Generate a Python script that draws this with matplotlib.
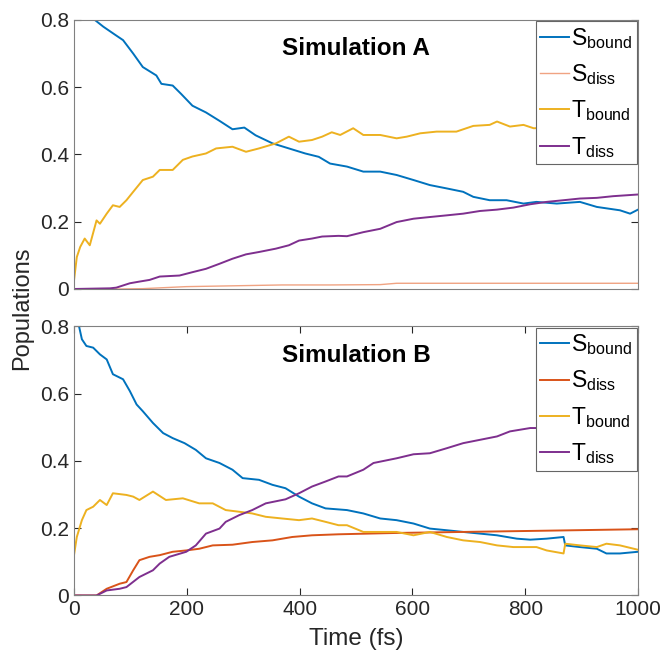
import numpy as np
import matplotlib.pyplot as plt

plt.rcParams['font.family'] = ['Liberation Sans', 'DejaVu Sans']
plt.rcParams['mathtext.fontset'] = 'custom'
plt.rcParams['mathtext.rm'] = 'Liberation Sans'
plt.rcParams['mathtext.it'] = 'Liberation Sans'

# ---- Simulation A ----
a_sb_t = [37, 52, 72, 87, 105, 122, 146, 155, 175, 190, 210, 234, 258, 281, 302, 322, 352, 381,
          410, 434, 454, 484, 513, 543, 572, 602, 631, 661, 690, 708, 737, 767, 797, 820, 856,
          897, 927, 968, 986, 1000]
a_sb_v = [0.80, 0.78, 0.757, 0.74, 0.70, 0.66, 0.635, 0.61, 0.605, 0.58, 0.545, 0.525, 0.50,
          0.475, 0.48, 0.457, 0.433, 0.418, 0.403, 0.393, 0.373, 0.364, 0.349, 0.349, 0.339,
          0.324, 0.309, 0.299, 0.289, 0.274, 0.264, 0.264, 0.254, 0.259, 0.254, 0.259, 0.244,
          0.234, 0.224, 0.236]

a_sd_t = [0, 80, 122, 199, 369, 454, 543, 572, 800, 1000]
a_sd_v = [0.0, 0.0, 0.001, 0.007, 0.012, 0.012, 0.013, 0.017, 0.017, 0.017]

a_tb_t = [0, 5, 11, 19, 28, 40, 46, 58, 69, 81, 93, 105, 122, 140, 152, 175, 193, 210, 234,
          252, 281, 305, 328, 358, 381, 399, 422, 440, 457, 472, 495, 513, 543, 572, 590, 614,
          643, 678, 708, 737, 750, 773, 797, 815, 860, 920, 1000]
a_tb_v = [0.025, 0.095, 0.125, 0.15, 0.13, 0.204, 0.194, 0.224, 0.249, 0.244, 0.264, 0.289,
          0.324, 0.334, 0.354, 0.354, 0.384, 0.394, 0.403, 0.418, 0.423, 0.408, 0.418, 0.433,
          0.453, 0.438, 0.443, 0.453, 0.466, 0.458, 0.478, 0.458, 0.458, 0.448, 0.453, 0.463,
          0.468, 0.468, 0.485, 0.488, 0.498, 0.483, 0.488, 0.478, 0.48, 0.475, 0.468]

a_td_t = [0, 64, 75, 99, 116, 134, 152, 187, 210, 234, 258, 281, 305, 328, 358, 381, 399,
          422, 440, 469, 484, 513, 543, 572, 602, 631, 661, 690, 720, 750, 779, 809, 838, 868,
          897, 927, 956, 1000]
a_td_v = [0.0, 0.002, 0.004, 0.017, 0.022, 0.027, 0.037, 0.04, 0.05, 0.06, 0.075, 0.09, 0.103,
          0.11, 0.12, 0.13, 0.144, 0.15, 0.156, 0.158, 0.157, 0.169, 0.179, 0.199, 0.209, 0.214,
          0.219, 0.224, 0.232, 0.236, 0.242, 0.252, 0.259, 0.264, 0.269, 0.271, 0.276, 0.281]

# ---- Simulation B ----
b_sb_t = [0, 9, 14, 22, 34, 46, 58, 69, 87, 99, 111, 122, 140, 158, 175, 196, 216, 234, 258,
          281, 299, 328, 352, 375, 399, 422, 446, 469, 484, 513, 543, 572, 602, 631, 661, 690,
          720, 750, 785, 809, 838, 868, 871, 897, 927, 944, 968, 1000]
b_sb_v = [0.83, 0.80, 0.762, 0.742, 0.737, 0.717, 0.702, 0.658, 0.643, 0.608, 0.568, 0.548,
          0.513, 0.483, 0.468, 0.453, 0.433, 0.408, 0.394, 0.374, 0.349, 0.344, 0.329, 0.319,
          0.294, 0.274, 0.259, 0.256, 0.254, 0.244, 0.229, 0.224, 0.214, 0.199, 0.194, 0.189,
          0.184, 0.179, 0.169, 0.166, 0.169, 0.174, 0.149, 0.144, 0.139, 0.125, 0.125, 0.13]

b_sd_t = [0, 40, 58, 81, 93, 105, 116, 134, 152, 175, 199, 222, 246, 281, 316, 352, 387, 422,
          469, 572, 690, 809, 1000]
b_sd_v = [0.0, 0.0, 0.02, 0.035, 0.04, 0.075, 0.105, 0.115, 0.12, 0.13, 0.134, 0.139, 0.149,
          0.151, 0.159, 0.164, 0.174, 0.179, 0.182, 0.186, 0.189, 0.192, 0.197]

b_tb_t = [0, 5, 14, 22, 34, 46, 58, 69, 93, 105, 116, 140, 163, 193, 222, 246, 269, 293, 316,
          340, 369, 399, 422, 446, 469, 484, 513, 543, 572, 602, 631, 661, 690, 720, 750, 779,
          820, 838, 868, 871, 897, 927, 944, 968, 1000]
b_tb_v = [0.12, 0.174, 0.224, 0.254, 0.264, 0.284, 0.269, 0.304, 0.299, 0.294, 0.284, 0.309,
          0.284, 0.289, 0.274, 0.274, 0.254, 0.249, 0.244, 0.234, 0.229, 0.224, 0.229, 0.219,
          0.209, 0.209, 0.189, 0.189, 0.189, 0.179, 0.189, 0.174, 0.164, 0.159, 0.149, 0.144,
          0.144, 0.134, 0.125, 0.154, 0.149, 0.144, 0.154, 0.149, 0.136]

b_td_t = [0, 40, 58, 81, 93, 116, 140, 152, 169, 199, 216, 234, 258, 269, 293, 316, 340, 375,
          399, 422, 446, 469, 484, 513, 531, 572, 602, 631, 661, 690, 720, 750, 773, 809, 825,
          900, 1000]
b_td_v = [0.0, 0.0, 0.015, 0.02, 0.025, 0.055, 0.075, 0.095, 0.115, 0.13, 0.149, 0.184, 0.199,
          0.219, 0.239, 0.254, 0.274, 0.286, 0.304, 0.324, 0.339, 0.354, 0.354, 0.374, 0.394,
          0.408, 0.420, 0.423, 0.438, 0.453, 0.463, 0.473, 0.488, 0.498, 0.498, 0.505, 0.515]

labels = [r'S$_{\mathrm{bound}}$', r'S$_{\mathrm{diss}}$',
          r'T$_{\mathrm{bound}}$', r'T$_{\mathrm{diss}}$']
c_blue = '#0072BD'
c_orange = '#D95319'
c_salmon = '#F0A382'
c_yellow = '#EDB120'
c_purple = '#7E2F8E'

fig = plt.figure(figsize=(6.63, 6.61), dpi=100)
ax1 = fig.add_axes([0.1116, 0.5628, 0.8507, 0.407])
ax2 = fig.add_axes([0.1116, 0.0991, 0.8507, 0.407])

lw = 1.4
ax1.plot(a_sb_t, a_sb_v, color=c_blue, lw=lw, label=labels[0])
ax1.plot(a_sd_t, a_sd_v, color=c_salmon, lw=1.0, label=labels[1])
ax1.plot(a_tb_t, a_tb_v, color=c_yellow, lw=lw, label=labels[2])
ax1.plot(a_td_t, a_td_v, color=c_purple, lw=lw, label=labels[3])

ax2.plot(b_sb_t, b_sb_v, color=c_blue, lw=lw, label=labels[0])
ax2.plot(b_sd_t, b_sd_v, color=c_orange, lw=lw, label=labels[1])
ax2.plot(b_tb_t, b_tb_v, color=c_yellow, lw=lw, label=labels[2])
ax2.plot(b_td_t, b_td_v, color=c_purple, lw=lw, label=labels[3])

for ax, title in [(ax1, 'Simulation A'), (ax2, 'Simulation B')]:
    ax.set_xlim(0, 1000)
    ax.set_ylim(0, 0.8)
    ax.set_yticks([0, 0.2, 0.4, 0.6, 0.8])
    ax.set_yticklabels(['0', '0.2', '0.4', '0.6', '0.8'])
    ax.tick_params(direction='in', top=True, right=True, labelsize=15,
                   colors='#262626', length=5, width=0.8)
    for sp in ax.spines.values():
        sp.set_color('#808080')
        sp.set_linewidth(0.8)
    ax.text(0.5, 0.893, title, transform=ax.transAxes, ha='center', va='center',
            fontsize=17.5, fontweight='bold')
    leg = ax.legend(loc='upper right', fontsize=16.5, frameon=True, fancybox=False,
                    framealpha=1, edgecolor='#666666', handlelength=1.25,
                    handletextpad=0.1, borderpad=0.2, labelspacing=0.5,
                    borderaxespad=0.05)
    leg.get_frame().set_linewidth(0.8)

ax1.set_xticks([])
ax2.set_xticks([0, 200, 400, 600, 800, 1000])
ax2.set_xlabel('Time (fs)', fontsize=17.5, color='#262626', labelpad=6)
fig.text(0.033, 0.533, 'Populations', rotation=90, ha='center', va='center',
         fontsize=17, color='#262626')

fig.savefig('out.png', dpi=100)
